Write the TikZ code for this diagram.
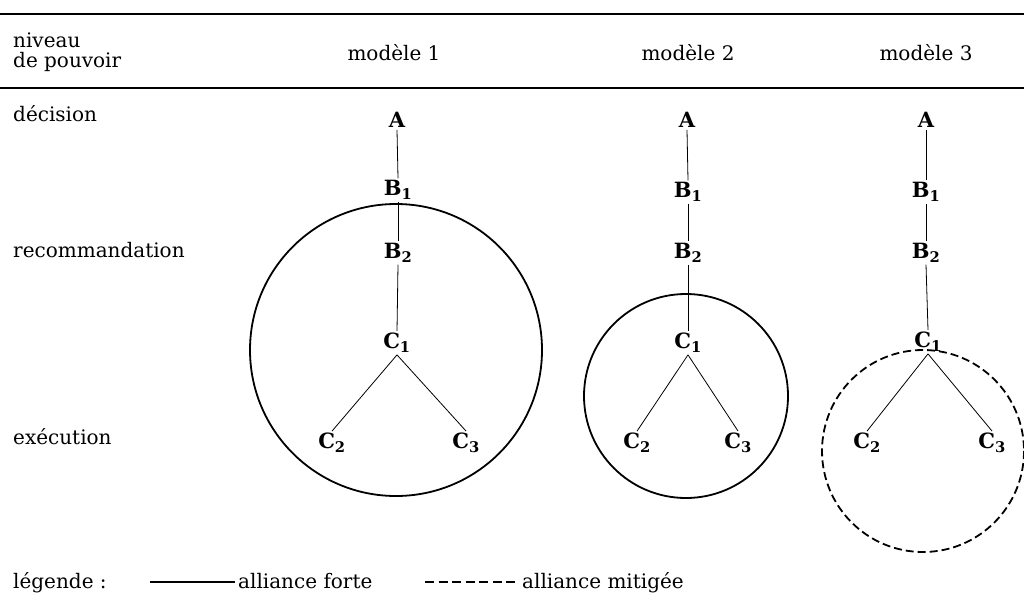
\documentclass[tikz,border=0pt]{standalone}
\usepackage{fontspec}
\setmainfont{DejaVu Serif}
\begin{document}
\begin{tikzpicture}[x=1pt,y=-1pt,
  lbl/.style={font=\fontsize{20}{24}\selectfont, inner sep=0pt},
  lft/.style={lbl, anchor=base west},
  hdr/.style={lbl, anchor=base},
  nd/.style={font=\fontsize{21}{25}\selectfont\bfseries, inner sep=2pt},
  link/.style={line width=0.8pt},
  rulel/.style={line width=1.6pt},
  strong/.style={line width=1.8pt},
  weak/.style={line width=1.8pt, dash pattern=on 8pt off 4pt}]
\useasboundingbox (0,0) rectangle (1024,610);
% rules
\coordinate (r1a) at (0,14); \coordinate (r1b) at (1024,14);
\coordinate (r2a) at (0,88); \coordinate (r2b) at (1024,88);
\draw[rulel] (r1a) -- (r1b);
\draw[rulel] (r2a) -- (r2b);
% headers
\node[lft] (niv) at (13,48) {niveau};
\node[lft] (pouv) at (13,67) {de pouvoir};
\node[hdr] (m1) at (394,60) {modèle 1};
\node[hdr] (m2) at (688,60) {modèle 2};
\node[hdr] (m3) at (926,60) {modèle 3};
% levels
\node[lft] (dec) at (13,121) {décision};
\node[lft] (rec) at (13,257) {recommandation};
\node[lft] (exe) at (13,444) {exécution};
% model 1
\draw[strong] (396,350) circle [radius=146];
\node[nd] (a1) at (397,120) {A};
\node[nd] (b11) at (398,190) {B\textsubscript{1}};
\node[nd] (b21) at (398,253) {B\textsubscript{2}};
\node[nd] (c11) at (397,343) {C\textsubscript{1}};
\node[nd] (c21) at (332,443) {C\textsubscript{2}};
\node[nd] (c31) at (466,443) {C\textsubscript{3}};
\draw[link] (a1.south) -- (b11.north);
\draw[link] (b11.south) -- (b21.north);
\draw[link] (b21.south) -- (c11.north);
\draw[link] (c11.south) -- (c21.north);
\draw[link] (c11.south) -- (c31.north);
% model 2
\draw[strong] (686,396) circle [radius=102];
\node[nd] (a2) at (687,120) {A};
\node[nd] (b12) at (688,192) {B\textsubscript{1}};
\node[nd] (b22) at (688,253) {B\textsubscript{2}};
\node[nd] (c12) at (688,343) {C\textsubscript{1}};
\node[nd] (c22) at (637,443) {C\textsubscript{2}};
\node[nd] (c32) at (738,443) {C\textsubscript{3}};
\draw[link] (a2.south) -- (b12.north);
\draw[link] (b12.south) -- (b22.north);
\draw[link] (b22.south) -- (c12.north);
\draw[link] (c12.south) -- (c22.north);
\draw[link] (c12.south) -- (c32.north);
% model 3
\draw[weak] (923,451) circle [radius=101];
\node[nd] (a3) at (926,120) {A};
\node[nd] (b13) at (926,192) {B\textsubscript{1}};
\node[nd] (b23) at (926,253) {B\textsubscript{2}};
\node[nd] (c13) at (928,342) {C\textsubscript{1}};
\node[nd] (c23) at (867,443) {C\textsubscript{2}};
\node[nd] (c33) at (992,443) {C\textsubscript{3}};
\draw[link] (a3.south) -- (b13.north);
\draw[link] (b13.south) -- (b23.north);
\draw[link] (b23.south) -- (c13.north);
\draw[link] (c13.south) -- (c23.north);
\draw[link] (c13.south) -- (c33.north);
% legend
\node[lft] (leg) at (13,588) {légende :};
\coordinate (s1) at (150,582); \coordinate (s2) at (235,582);
\draw[line width=1.3pt] (s1) -- (s2);
\node[lft] (forte) at (238,588) {alliance forte};
\coordinate (d1) at (425,582); \coordinate (d2) at (518,582);
\draw[line width=1.3pt, dash pattern=on 9pt off 4.5pt] (d1) -- (d2);
\node[lft] (mit) at (522,588) {alliance mitigée};
\end{tikzpicture}
\end{document}
